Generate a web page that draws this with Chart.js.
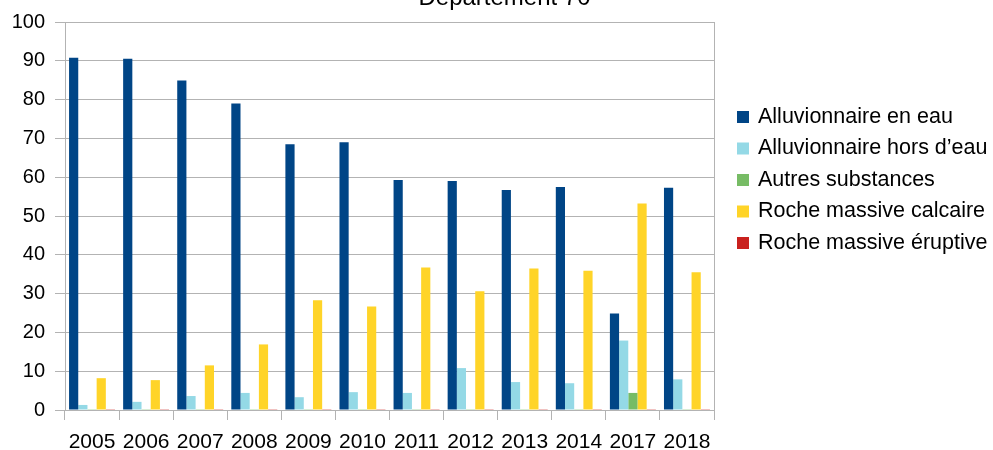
<!DOCTYPE html>
<html lang="fr">
<head>
<meta charset="utf-8">
<title>Département 70</title>
<script src="https://cdn.jsdelivr.net/npm/chart.js@4/dist/chart.umd.min.js"></script>
<style>
    html, body { margin: 0; padding: 0; background: #fff; }
    #contenedor { width: 993px; height: 450px; position: relative; }
</style>
</head>
<body>
<div id="contenedor"><canvas id="grafico"></canvas></div>
<script>
// Datos
const annees = ['2005', '2006', '2007', '2008', '2009', '2010', '2011', '2012', '2013', '2014', '2017', '2018'];
const alluvionnaireEnEau = [90.8, 90.5, 84.9, 79.0, 68.5, 69.0, 59.3, 59.0, 56.7, 57.5, 24.9, 57.3];
const alluvionnaireHorsEau = [1.3, 2.1, 3.6, 4.4, 3.3, 4.6, 4.4, 10.8, 7.2, 6.9, 17.9, 7.9];
const autresSubstances = [0.2, 0.2, 0.2, 0.2, 0.2, 0.2, 0.2, 0.2, 0.2, 0.2, 4.4, 0.2];
const rocheCalcaire = [8.2, 7.7, 11.5, 16.9, 28.3, 26.7, 36.7, 30.6, 36.5, 35.9, 53.2, 35.5];
const rocheEruptive = [0.2, 0.2, 0.2, 0.2, 0.2, 0.2, 0.2, 0.2, 0.2, 0.2, 0.2, 0.2];

const gris = '#b3b3b3';
const fuente = 'Liberation Sans';

// Leyenda a la derecha dibujada a mano (la del plugin queda limitada en ancho)
const leyendaDerecha = {
    id: 'leyendaDerecha',
    afterDraw(chart) {
        const c = chart.ctx;
        const area = chart.chartArea;
        const x = area.right + 23;
        const yInicio = 117;
        const paso = 31.5;
        c.save();
        c.font = '21.5px "' + fuente + '"';
        c.textBaseline = 'middle';
        c.textAlign = 'left';
        chart.data.datasets.forEach((ds, i) => {
            const y = yInicio + i * paso;
            c.fillStyle = ds.backgroundColor;
            c.fillRect(x, y - 6, 12, 12);
            c.fillStyle = '#000';
            c.fillText(ds.label, x + 21, y);
        });
        c.restore();
    }
};

document.addEventListener('DOMContentLoaded', function() {
    const ctx = document.getElementById('grafico').getContext('2d');

    window.graficaDepartement = new Chart(ctx, {
        type: 'bar',
        data: {
            labels: annees,
            datasets: [
                { label: 'Alluvionnaire en eau', data: alluvionnaireEnEau, backgroundColor: '#004586' },
                { label: 'Alluvionnaire hors d\u2019eau', data: alluvionnaireHorsEau, backgroundColor: '#94d9e6' },
                { label: 'Autres substances', data: autresSubstances, backgroundColor: '#77bc65' },
                { label: 'Roche massive calcaire', data: rocheCalcaire, backgroundColor: '#ffd428' },
                { label: 'Roche massive éruptive', data: rocheEruptive, backgroundColor: '#c9211e' }
            ]
        },
        options: {
            responsive: true,
            maintainAspectRatio: false,
            animation: false,
            categoryPercentage: 0.85,
            barPercentage: 1.0,
            // padding derecho negativo para centrar el título como en el original
            layout: { padding: { left: 0, right: -16, top: 0, bottom: 0 } },
            plugins: {
                title: {
                    display: true,
                    text: 'Département 70',
                    color: '#000',
                    font: { family: fuente, size: 24, weight: 'normal', lineHeight: 1.2 },
                    padding: { top: -17.5, bottom: 9 }
                },
                legend: { display: false },
                tooltip: { enabled: false }
            },
            scales: {
                x: {
                    grid: { drawOnChartArea: false, tickLength: 10, color: gris },
                    border: { color: gris },
                    ticks: { color: '#000', padding: 12, font: { family: fuente, size: 21, lineHeight: 1 } },
                    afterFit: (escala) => { escala.height = 40; }
                },
                y: {
                    min: 0,
                    max: 100,
                    ticks: { stepSize: 10, color: '#000', padding: 10, font: { family: fuente, size: 20 } },
                    grid: { color: gris, tickLength: 10 },
                    border: { color: gris },
                    afterFit: (escala) => { escala.width = 65; }
                },
                borde: {
                    position: 'right',
                    display: true,
                    grid: { display: false },
                    ticks: { display: false },
                    border: { display: true, color: gris },
                    afterFit: (escala) => { escala.width = 295; }
                }
            }
        },
        plugins: [leyendaDerecha]
    });
});
</script>
</body>
</html>
